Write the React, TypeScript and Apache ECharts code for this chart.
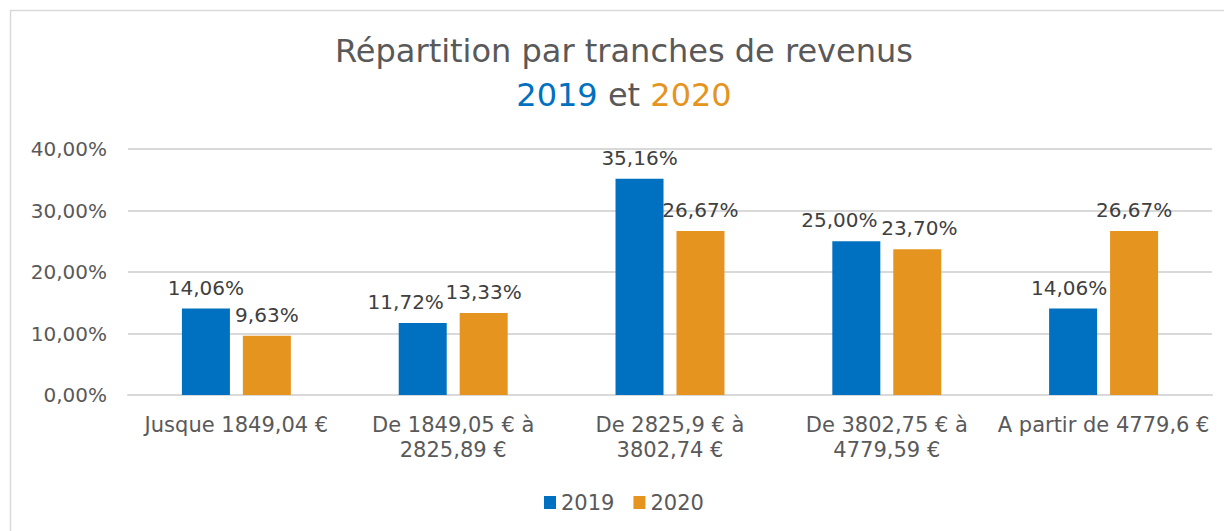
import React, { useEffect, useRef } from "react";
import * as echarts from "echarts";

const categories = [
  "Jusque 1849,04 €",
  "De 1849,05 € à\n2825,89 €",
  "De 2825,9 € à\n3802,74 €",
  "De 3802,75 € à\n4779,59 €",
  "A partir de 4779,6 €",
];
const values2019 = [14.06, 11.72, 35.16, 25.0, 14.06];
const values2020 = [9.63, 13.33, 26.67, 23.7, 26.67];
const yTicks = [0, 10, 20, 30, 40];

const BLUE = "#0070C0";
const ORANGE = "#E59420";
const FONT = "'DejaVu Sans', Verdana, sans-serif";

const fmt = (v: number) => v.toFixed(2).replace(".", ",") + "%";

// label nudges (as Excel places labels to avoid neighbours)
const shift2019 = [0, -17, 0, -17, -4];
const shift2020 = [0, 0, 0, 2, 0];

export default function App() {
  const ref = useRef<HTMLDivElement>(null);
  useEffect(() => {
    if (!ref.current) return;
    const chart = echarts.init(ref.current, null, { renderer: "svg" });
    const labelStyle = {
      show: true,
      position: "top" as const,
      distance: 11,
      fontSize: 20,
      color: "#404040",
      fontFamily: FONT,
      formatter: (p: any) => fmt(p.value),
    };
    const mk = (vals: number[], shifts: number[]) =>
      vals.map((v, i) => ({ value: v, label: { offset: [shifts[i], 0] } }));
    chart.setOption({
      animation: false,
      backgroundColor: "#ffffff",
      graphic: [
        {
          type: "rect",
          shape: { x: 10.5, y: 10.5, width: 1240, height: 560 },
          style: { fill: "none", stroke: "#d9d9d9", lineWidth: 1.5 },
          silent: true,
        },
      ],
      title: {
        left: 619,
        textAlign: "center",
        top: 30,
        text: "Répartition par tranches de revenus",
        subtext: "{a|2019} {b|et} {c|2020}",
        itemGap: 12,
        textStyle: {
          fontFamily: FONT,
          fontSize: 32,
          fontWeight: "normal",
          color: "#595959",
        },
        subtextStyle: {
          fontFamily: FONT,
          fontSize: 32,
          rich: {
            a: { color: BLUE, fontSize: 32, fontFamily: FONT },
            b: { color: "#595959", fontSize: 32, fontFamily: FONT },
            c: { color: ORANGE, fontSize: 32, fontFamily: FONT },
          },
        },
      },
      legend: {
        bottom: 13,
        left: 539,
        itemWidth: 12,
        itemHeight: 13,
        itemGap: 19,
        icon: "rect",
        textStyle: { fontFamily: FONT, fontSize: 21, color: "#595959" },
        data: ["2019", "2020"],
      },
      grid: { left: 128, right: 12, top: 149, bottom: 136 },
      xAxis: {
        type: "category",
        data: categories,
        axisTick: { show: false },
        axisLine: { lineStyle: { color: "#d9d9d9", width: 2 } },
        axisLabel: {
          fontFamily: FONT,
          fontSize: 21,
          color: "#595959",
          margin: 17,
          lineHeight: 25,
          interval: 0,
        },
      },
      yAxis: {
        type: "value",
        min: yTicks[0],
        max: yTicks[yTicks.length - 1],
        interval: 10,
        axisLabel: {
          fontFamily: FONT,
          fontSize: 20,
          color: "#595959",
          margin: 21,
          formatter: (v: number) => fmt(v),
        },
        splitLine: { lineStyle: { color: "#d9d9d9", width: 2 } },
      },
      series: [
        {
          name: "2019",
          type: "bar",
          data: mk(values2019, shift2019),
          barWidth: 48,
          barGap: "27%",
          itemStyle: { color: BLUE },
          label: labelStyle,
        },
        {
          name: "2020",
          type: "bar",
          data: mk(values2020, shift2020),
          barWidth: 48,
          itemStyle: { color: ORANGE },
          label: labelStyle,
        },
      ],
    });
    return () => chart.dispose();
  }, []);
  return (
    <div
      ref={ref}
      style={{ position: "fixed", left: 0, top: 0, width: 1224, height: 531 }}
    />
  );
}
